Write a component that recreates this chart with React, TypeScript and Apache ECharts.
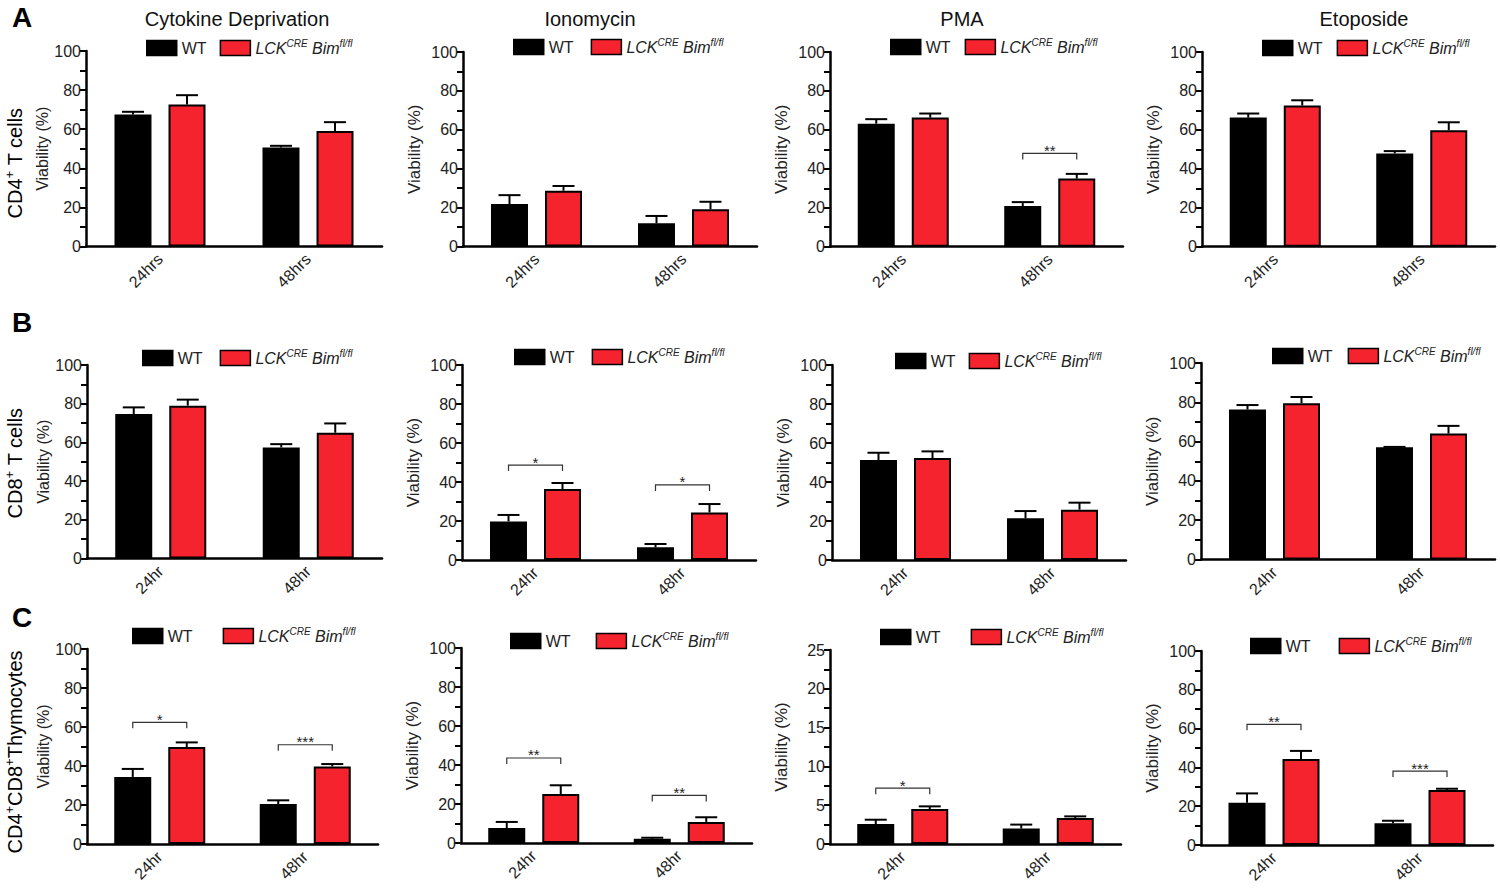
import React, { useEffect, useRef } from 'react';
import * as echarts from 'echarts';

// ---------- DATA ----------
const rowCategories = [
  ['24hrs', '48hrs'],
  ['24hr', '48hr'],
  ['24hr', '48hr'],
];
const treatments = ['Cytokine Deprivation', 'Ionomycin', 'PMA', 'Etoposide'];
const rowLetters = ['A', 'B', 'C'];
const seriesNames = ['WT', 'LCK'];

// panel order: A1..A4, B1..B4, C1..C4 ; each [24h, 48h]
const wtMean = [
  [67.5, 50.6], [21.8, 11.9], [63.2, 20.9], [66.3, 47.9],
  [74.7, 57.4], [19.8, 6.5], [51.3, 21.4], [76.3, 57.1],
  [34.4, 20.5], [7.7, 2.2], [2.57, 2.0], [21.8, 11.2],
];
const wtSem = [
  [1.4, 0.9], [4.6, 3.8], [2.3, 2.0], [2.1, 1.2],
  [3.4, 1.7], [3.3, 1.7], [3.7, 3.7], [2.3, 0.2],
  [4.1, 1.9], [3.1, 0.5], [0.56, 0.5], [4.8, 1.3],
];
const lckMean = [
  [72.6, 59.1], [28.7, 19.1], [66.3, 35.0], [72.5, 59.8],
  [79.0, 65.0], [36.4, 24.4], [52.3, 25.8], [79.5, 64.1],
  [49.7, 39.8], [25.1, 10.8], [4.5, 3.35], [44.3, 28.4],
];
const lckSem = [
  [4.8, 4.5], [2.4, 3.9], [2.1, 2.4], [2.7, 4.1],
  [3.1, 4.8], [3.1, 4.3], [3.4, 3.6], [3.2, 3.9],
  [2.4, 1.2], [4.5, 2.4], [0.35, 0.21], [4.2, 0.6],
];
const yMax = [100, 100, 100, 100, 100, 100, 100, 100, 100, 100, 25, 100];
const yInterval = [20, 20, 20, 20, 20, 20, 20, 20, 20, 20, 5, 20];

// significance brackets: panel index, category index, bracket height, label
const sigPanel = [2, 5, 5, 8, 8, 9, 9, 10, 11, 11];
const sigCat = [1, 0, 1, 0, 1, 0, 1, 0, 0, 1];
const sigY = [47.9, 48.7, 38.5, 62.4, 50.9, 43.6, 24.4, 7.2, 62.2, 38.1];
const sigLabel = ['**', '*', '*', '*', '***', '**', '**', '*', '**', '***'];

// ---------- LAYOUT / STYLE ----------
const FONT = '"Liberation Sans", Arial, Helvetica, sans-serif';
const RED = '#F4232E';
const BAR_W = 37;
const HALF = 27; // half distance between paired bar centres

const layout = [
  { left: 86, top: 51, width: 296, height: 195.5 },
  { left: 463, top: 52, width: 294, height: 194.5 },
  { left: 830, top: 52, width: 293, height: 194.7 },
  { left: 1202, top: 52, width: 293, height: 194.7 },
  { left: 87, top: 365, width: 295, height: 193.5 },
  { left: 462, top: 365, width: 294, height: 195 },
  { left: 832, top: 365, width: 294, height: 195 },
  { left: 1201, top: 363, width: 294, height: 196.5 },
  { left: 87, top: 649, width: 291, height: 195 },
  { left: 461, top: 648, width: 291, height: 195 },
  { left: 830, top: 650, width: 291, height: 194 },
  { left: 1201, top: 651, width: 292, height: 194 },
];
// legend: left of first swatch, centre y, gap
const legendPos = [
  [146, 48, 13], [513, 47, 17], [890, 47, 14], [1262, 48, 14],
  [142, 358, 17], [514, 357, 17], [895, 361, 13], [1272, 356, 15],
  [132, 636, 30], [510, 641, 25], [880, 637, 30], [1250, 646, 28],
];
const titleX = [237, 590, 962, 1364];

export default function App() {
  const ref = useRef<HTMLDivElement>(null);

  useEffect(() => {
    document.body.style.margin = '0';
    if (!ref.current) return;
    const chart = echarts.init(ref.current, undefined, { renderer: 'svg' });

    const grid = layout.map((l) => ({ ...l, containLabel: false }));
    const xAxis = layout.map((_, i) => ({
      type: 'category',
      gridIndex: i,
      data: rowCategories[Math.floor(i / 4)],
      axisLine: { lineStyle: { color: '#000', width: 2.5 } },
      axisTick: { alignWithLabel: true, length: 7, lineStyle: { width: 2.5, color: '#000' } },
      axisLabel: { rotate: 45, fontSize: 16, color: '#222', fontFamily: FONT, margin: 10 },
    }));
    const yAxis = layout.map((_, i) => ({
      type: 'value',
      gridIndex: i,
      min: 0,
      max: yMax[i],
      interval: yInterval[i],
      name: 'Viability (%)',
      nameLocation: 'middle',
      nameGap: i % 4 === 0 ? 33 : 40,
      nameTextStyle: { fontSize: i % 4 === 0 ? 16 : 17, color: '#222', fontFamily: FONT },
      axisLine: { show: true, lineStyle: { color: '#000', width: 2.5 } },
      axisTick: { show: true, length: 6, lineStyle: { width: 2, color: '#000' } },
      minorTick: { show: true, splitNumber: 2, length: 6, lineStyle: { width: 2, color: '#000' } },
      splitLine: { show: false },
      axisLabel: { fontSize: 16, color: '#222', fontFamily: FONT, margin: 5 },
    }));

    const errSeries = (p: number, mean: number[], sem: number[], off: number, nm: string) => ({
      type: 'custom',
      name: nm,
      xAxisIndex: p,
      yAxisIndex: p,
      z: 3,
      data: mean.map((m, i) => [i, m, m + sem[i]]),
      renderItem: (params: any, api: any) => {
        const base = api.coord([api.value(0), api.value(1)]);
        const top = api.coord([api.value(0), api.value(2)]);
        const x = base[0] + off;
        return {
          type: 'group',
          children: [
            { type: 'line', shape: { x1: x, y1: base[1], x2: x, y2: top[1] }, style: { stroke: '#000', lineWidth: 2 } },
            { type: 'line', shape: { x1: x - 11, y1: top[1], x2: x + 11, y2: top[1] }, style: { stroke: '#000', lineWidth: 2 } },
          ],
        };
      },
    });

    const series: any[] = [];
    layout.forEach((_, p) => {
      series.push({
        type: 'bar', name: seriesNames[0], xAxisIndex: p, yAxisIndex: p, data: wtMean[p],
        barWidth: BAR_W, barGap: '46%', z: 2,
        itemStyle: { color: '#000', borderColor: '#000', borderWidth: 2 },
      });
      series.push({
        type: 'bar', name: seriesNames[1], xAxisIndex: p, yAxisIndex: p, data: lckMean[p],
        barWidth: BAR_W, barGap: '46%', z: 2,
        itemStyle: { color: RED, borderColor: '#000', borderWidth: 2 },
      });
      series.push(errSeries(p, wtMean[p], wtSem[p], -HALF, 'errWT' + p));
      series.push(errSeries(p, lckMean[p], lckSem[p], HALF, 'errLCK' + p));
      const idx = sigPanel.map((sp, k) => (sp === p ? k : -1)).filter((k) => k >= 0);
      if (idx.length) {
        series.push({
          type: 'custom',
          name: 'sig' + p,
          xAxisIndex: p,
          yAxisIndex: p,
          z: 4,
          data: idx.map((k) => [sigCat[k], sigY[k]]),
          renderItem: (params: any, api: any) => {
            const c = api.coord([api.value(0), api.value(1)]);
            const lbl = sigLabel[idx[params.dataIndex]];
            const xL = c[0] - HALF;
            const xR = c[0] + HALF;
            const y = c[1];
            return {
              type: 'group',
              children: [
                {
                  type: 'polyline',
                  shape: { points: [[xL, y + 6], [xL, y], [xR, y], [xR, y + 6]] },
                  style: { stroke: '#333', lineWidth: 1.2, fill: 'none' },
                },
                {
                  type: 'text',
                  x: c[0],
                  y: y - 3,
                  style: {
                    text: lbl, fontSize: 15, fontFamily: FONT, fill: '#222',
                    align: 'center', verticalAlign: 'middle',
                    textAlign: 'center', textVerticalAlign: 'middle',
                  },
                },
              ],
            };
          },
        });
      }
    });

    const legend = legendPos.map(([x, cy, gap]) => ({
      left: x - 5,
      top: cy - 15,
      orient: 'horizontal',
      icon: 'rect',
      itemWidth: 30,
      itemHeight: 15,
      itemGap: gap,
      selectedMode: false,
      data: seriesNames,
      itemStyle: { borderColor: '#000', borderWidth: 1.5 },
      formatter: (name: string) =>
        name === 'LCK' ? '{i|LCK}{s|CRE}{i| Bim}{s|fl/fl}' : '{n|WT}',
      textStyle: {
        color: '#222',
        fontFamily: FONT,
        rich: {
          n: { fontSize: 16, lineHeight: 20, fontFamily: FONT, color: '#222' },
          i: { fontSize: 16, lineHeight: 20, fontStyle: 'italic', fontFamily: FONT, color: '#222' },
          s: { fontSize: 10, lineHeight: 12, fontStyle: 'italic', verticalAlign: 'top', fontFamily: FONT, color: '#222' },
        },
      },
    }));

    const graphic: any[] = [];
    treatments.forEach((t, i) => {
      graphic.push({
        type: 'text', x: titleX[i], y: 19,
        style: {
          text: t, fontSize: 20, fontFamily: FONT, fill: '#111',
          align: 'center', verticalAlign: 'middle', textAlign: 'center', textVerticalAlign: 'middle',
        },
      });
    });
    const letterY = [17, 322, 617];
    rowLetters.forEach((l, i) => {
      graphic.push({
        type: 'text', x: 22, y: letterY[i],
        style: {
          text: l, fontSize: 28, fontWeight: 'bold', fontFamily: FONT, fill: '#000',
          align: 'center', verticalAlign: 'middle', textAlign: 'center', textVerticalAlign: 'middle',
        },
      });
    });
    const sideRich = {
      a: { fontSize: 20, lineHeight: 24, fontFamily: FONT, color: '#111' },
      s: { fontSize: 13, lineHeight: 14, verticalAlign: 'top', fontFamily: FONT, color: '#111' },
    };
    const sideLabels = [
      { text: '{a|CD4}{s|+}{a| T cells}', y: 163 },
      { text: '{a|CD8}{s|+}{a| T cells}', y: 463 },
      { text: '{a|CD4}{s|+}{a|CD8}{s|+}{a|Thymocytes}', y: 752 },
    ];
    sideLabels.forEach((s) => {
      graphic.push({
        type: 'text', x: 15, y: s.y, rotation: Math.PI / 2,
        style: {
          text: s.text, rich: sideRich, fontFamily: FONT,
          align: 'center', verticalAlign: 'middle', textAlign: 'center', textVerticalAlign: 'middle',
        },
      });
    });

    chart.setOption({
      animation: false,
      backgroundColor: '#fff',
      textStyle: { fontFamily: FONT },
      grid,
      xAxis,
      yAxis,
      legend,
      series,
      graphic,
    });

    return () => chart.dispose();
  }, []);

  return <div ref={ref} style={{ width: 1500, height: 892 }} />;
}
